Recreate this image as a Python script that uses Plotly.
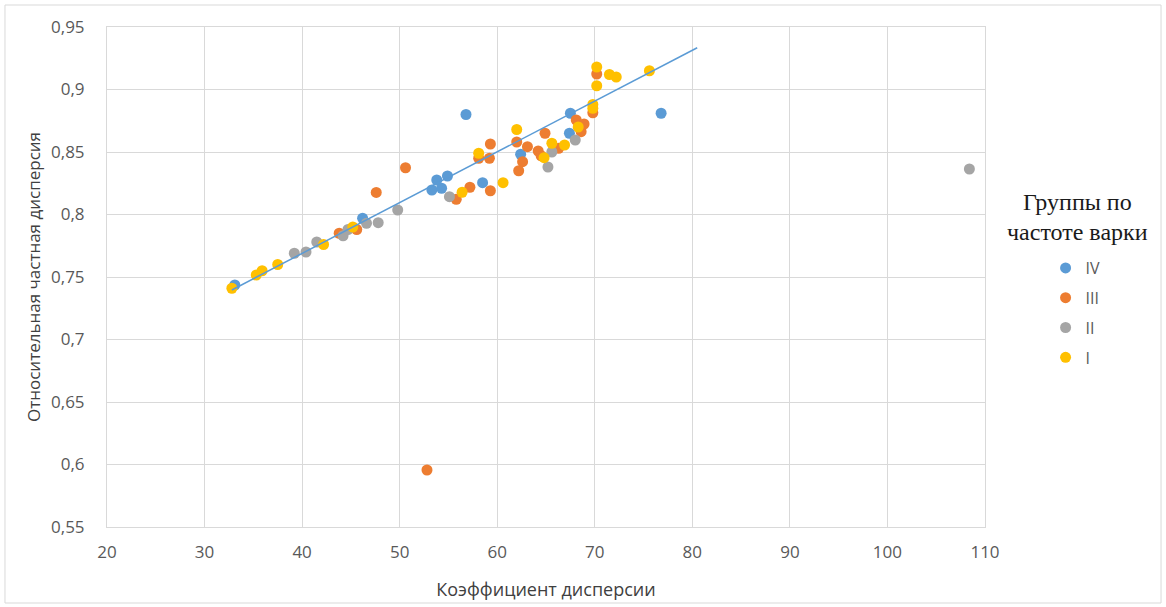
import plotly.graph_objects as go

# ---- data ----
iv_x = [33.1, 46.2, 53.3, 53.8, 54.3, 54.9, 56.8, 58.5, 62.4, 67.4, 67.5, 76.8]
iv_y = [0.7436, 0.797, 0.8196, 0.8276, 0.821, 0.8308, 0.880, 0.8255, 0.8482, 0.865, 0.881, 0.881]

iii_x = [43.8, 45.6, 47.6, 50.6, 52.8, 55.8, 57.2, 58.1, 59.2, 59.3, 59.3, 62.0, 62.2, 62.6,
         63.1, 64.2, 64.9, 66.3, 68.1, 68.6, 68.9, 69.8, 70.2, 64.5]
iii_y = [0.785, 0.788, 0.8177, 0.8374, 0.5956, 0.8122, 0.8218, 0.845, 0.845, 0.8564, 0.819, 0.858,
         0.835, 0.8423, 0.8543, 0.8508, 0.865, 0.853, 0.8756, 0.8663, 0.8724, 0.8814, 0.9124, 0.847]

ii_x = [39.2, 40.4, 41.5, 44.2, 44.7, 46.6, 47.8, 49.8, 55.1, 65.2, 65.6, 68.0, 108.4]
ii_y = [0.769, 0.770, 0.778, 0.783, 0.788, 0.793, 0.7935, 0.8036, 0.8143, 0.838, 0.850, 0.8596, 0.8364]

i_x = [32.8, 35.3, 35.9, 37.5, 42.2, 45.2, 56.4, 58.1, 60.6, 62.0, 64.8, 65.6, 66.9, 68.3,
       69.8, 69.8, 70.2, 70.2, 71.5, 72.2, 75.6]
i_y = [0.741, 0.7516, 0.755, 0.760, 0.776, 0.790, 0.8178, 0.849, 0.8255, 0.868, 0.8455, 0.857,
       0.8556, 0.870, 0.885, 0.888, 0.903, 0.918, 0.912, 0.910, 0.915]

trend_x = [32.8, 80.5]
trend_slope = 0.004062
trend_intercept = 0.6064

series_names = ["IV", "III", "II", "I"]
series_colors = ["#5B9BD5", "#ED7D31", "#A5A5A5", "#FFC000"]
legend_title_lines = ["Группы по", "частоте варки"]

x_ticks = [20, 30, 40, 50, 60, 70, 80, 90, 100, 110]
y_ticks = [0.55, 0.6, 0.65, 0.7, 0.75, 0.8, 0.85, 0.9, 0.95]
y_tick_labels = ["0,55", "0,6", "0,65", "0,7", "0,75", "0,8", "0,85", "0,9", "0,95"]

fig = go.Figure()
for name, xs, ys, col in zip(series_names, [iv_x, iii_x, ii_x, i_x], [iv_y, iii_y, ii_y, i_y], series_colors):
    fig.add_trace(go.Scatter(
        x=xs, y=ys, mode="markers", name=name, legendgroup=name,
        marker=dict(color=col, size=11, line=dict(width=0)),
    ))

fig.add_trace(go.Scatter(
    x=trend_x, y=[trend_intercept + trend_slope * v for v in trend_x],
    mode="lines", line=dict(color="#5B9BD5", width=1.5), showlegend=False, hoverinfo="skip",
))

grid = "#D9D9D9"
txt = "#595959"
fig.update_layout(
    width=1166, height=607,
    margin=dict(l=107, r=181, t=27, b=80),
    paper_bgcolor="white", plot_bgcolor="white",
    font=dict(family="Open Sans, sans-serif", color=txt, size=15),
    xaxis=dict(
        range=[20, 110], tickvals=x_ticks, showgrid=True, gridcolor=grid, gridwidth=1,
        showline=True, linecolor=grid, mirror=True, zeroline=False, ticks="",
        tickfont=dict(size=17, color=txt), ticklabelstandoff=10,
        title=dict(text="Коэффициент дисперсии", font=dict(size=18, color="#404040"), standoff=20),
    ),
    yaxis=dict(
        range=[0.55, 0.95], tickvals=y_ticks, ticktext=y_tick_labels, showgrid=True,
        gridcolor=grid, gridwidth=1, showline=True, linecolor=grid, mirror=True,
        zeroline=False, ticks="", tickfont=dict(size=17, color=txt), ticklabelstandoff=18,
        title=dict(text="Относительная частная дисперсия", font=dict(size=17, color="#404040"), standoff=6),
    ),
    legend=dict(
        x=1.069, xanchor="left", y=0.552, yanchor="top",
        font=dict(size=16, color=txt), tracegroupgap=6, bgcolor="rgba(0,0,0,0)",
    ),
    showlegend=True,
    annotations=[
        dict(text=legend_title_lines[0], xref="paper", yref="paper", x=1.1048, y=1 - (202 - 27) / 500,
             xanchor="center", yanchor="middle", showarrow=False,
             font=dict(family="Liberation Serif", size=24, color="#1a1a1a")),
        dict(text=legend_title_lines[1], xref="paper", yref="paper", x=1.1048, y=1 - (232 - 27) / 500,
             xanchor="center", yanchor="middle", showarrow=False,
             font=dict(family="Liberation Serif", size=24, color="#1a1a1a")),
    ],
    shapes=[dict(type="rect", xref="paper", yref="paper",
                 x0=-0.1162, x1=1.2005, y0=-0.152, y1=1.044,
                 line=dict(color=grid, width=1), fillcolor="rgba(0,0,0,0)", layer="below")],
)

fig.write_html("out.html")
